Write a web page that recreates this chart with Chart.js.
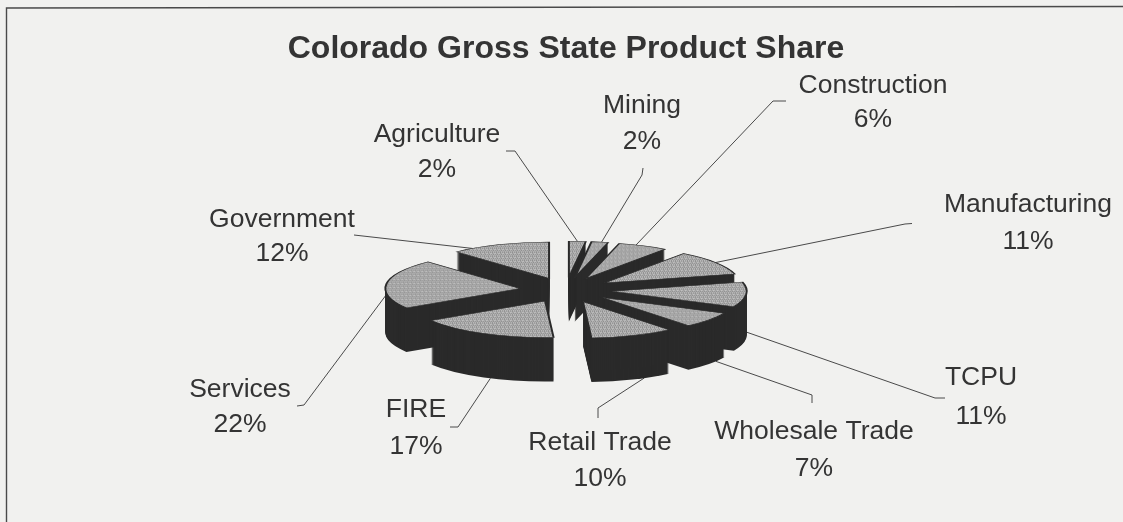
<!DOCTYPE html>
<html>
<head>
<meta charset="utf-8">
<style>html,body{margin:0;padding:0;background:#f1f1ef;overflow:hidden}canvas{display:block}</style>
<script src="https://cdn.jsdelivr.net/npm/chart.js@4"></script>
</head>
<body>
<div style="width:1123px;height:522px;position:relative"><canvas id="c" width="1123" height="522"></canvas></div>
<script>
const categories = ["Agriculture","Mining","Construction","Manufacturing","TCPU","Wholesale Trade","Retail Trade","FIRE","Services","Government"];
const shares = [2,2,6,11,11,7,10,17,22,12];
const chartTitle = "Colorado Gross State Product Share";

const SQ = 0.27, EXPLODE = 46, DEPTH = 44, FONT = '26.5px "Liberation Sans"', INK = '#343434', WALL = '#2a2a2a';
// label placement (centre x, first baseline y, second baseline y) and leader routing
const labelLayout = {
  "Agriculture":{x:437,y1:142,y2:177,t:.5,drop:0,via:[[515,151],[506,151]]},
  "Mining":{x:642,y1:113,y2:149,t:.6,drop:0,via:[[642,175],[643,168]]},
  "Construction":{x:873,y1:93,y2:127,t:.35,drop:0,via:[[773,101],[786,101]]},
  "Manufacturing":{x:1028,y1:212,y2:249,t:.5,drop:0,via:[[905,224],[912,223.5]]},
  "TCPU":{x:981,y1:385,y2:424,t:.85,drop:.6,via:[[935,398],[945,398]]},
  "Wholesale Trade":{x:814,y1:439,y2:476,t:.3,drop:1,via:[[812,395],[812,403]]},
  "Retail Trade":{x:600,y1:450,y2:486,t:.35,drop:1,via:[[598,408],[598,418]]},
  "FIRE":{x:416,y1:417,y2:454,t:.45,drop:1,via:[[458,427],[450,427]]},
  "Services":{x:240,y1:397,y2:432,t:.3,drop:0,via:[[304,405],[297,406]]},
  "Government":{x:282,y1:227,y2:261,t:.2,drop:0,via:[[354,235]]}
};

function stipple(){
  const n = document.createElement('canvas'); n.width = n.height = 4;
  const g = n.getContext('2d');
  const v = [[176,136,184,144],[192,160,168,198],[140,180,132,178],[186,148,194,158]];
  v.forEach((row,y)=>row.forEach((c,x)=>{g.fillStyle=`rgb(${c},${c},${c})`;g.fillRect(x,y,1,1);}));
  const p = g.createPattern(n,'repeat');
  p.setTransform(new DOMMatrix().scale(1,1/SQ));
  return p;
}

const pie3d = {
  id:'pie3d',
  beforeDraw(chart){
    const c = chart.ctx;
    c.save();
    c.fillStyle = '#f1f1ef'; c.fillRect(0,0,chart.width,chart.height);
    c.strokeStyle = '#4a4a4a'; c.lineWidth = 1.4;
    c.beginPath(); c.moveTo(6.5,522); c.lineTo(6.5,8); c.lineTo(1123,6.5); c.stroke();
    c.restore();
  },
  beforeDatasetsDraw(chart){
    const c = chart.ctx, arcs = chart.getDatasetMeta(0).data;
    const mid = a => (a.startAngle + a.endAngle)/2;
    const place = (a,drop) => {
      const m = mid(a);
      c.translate(a.x + Math.cos(m)*EXPLODE, a.y + Math.sin(m)*EXPLODE*SQ + drop);
      c.scale(1,SQ);
      c.translate(-a.x,-a.y);
    };
    const order = arcs.map((a,i)=>i).sort((p,q)=>Math.sin(mid(arcs[p]))-Math.sin(mid(arcs[q])));
    // leaders behind the pie
    c.save();
    c.strokeStyle = '#4a4a4a'; c.lineWidth = 1;
    arcs.forEach((a,i)=>{
      const L = labelLayout[categories[i]], m = mid(a);
      const ang = a.startAngle + L.t*(a.endAngle-a.startAngle);
      const x = a.x + Math.cos(m)*EXPLODE + Math.cos(ang)*a.outerRadius;
      const y = a.y + SQ*(Math.sin(m)*EXPLODE + Math.sin(ang)*a.outerRadius) + L.drop*DEPTH;
      c.beginPath(); c.moveTo(x,y);
      L.via.forEach(p=>c.lineTo(p[0],p[1]));
      c.stroke();
    });
    c.restore();
    order.forEach(i=>{
      const a = arcs[i], base = a.options;
      a.options = Object.assign({},base,{backgroundColor:WALL,borderColor:WALL,borderWidth:0});
      for(let d=DEPTH;d>=1;d--){
        c.save(); place(a,d); a.draw(c); c.restore();
      }
      a.options = base;
      c.save(); place(a,0); a.draw(c); c.restore();
    });
    return false;
  },
  afterDraw(chart){
    const c = chart.ctx;
    c.save();
    c.fillStyle = INK; c.font = FONT; c.textAlign = 'center'; c.textBaseline = 'alphabetic';
    categories.forEach((name,i)=>{
      const L = labelLayout[name];
      c.fillText(name,L.x,L.y1);
      c.fillText(shares[i]+'%',L.x,L.y2);
    });
    c.restore();
  }
};

new Chart(document.getElementById('c'),{
  type:'pie',
  data:{labels:categories,datasets:[{
    data:shares,
    backgroundColor:categories.map(()=>stipple()),
    borderColor:WALL,borderWidth:2,borderJoinStyle:'miter'
  }]},
  plugins:[pie3d],
  options:{
    responsive:false,animation:false,rotation:0,radius:135,
    layout:{padding:{left:9,bottom:8}},
    plugins:{
      legend:{display:false},tooltip:{enabled:false},
      title:{display:true,text:chartTitle,color:'#343434',font:{family:'"Liberation Sans"',size:32,weight:'bold',lineHeight:1},padding:{top:33,bottom:1}}
    }
  }
});
</script>
</body>
</html>
